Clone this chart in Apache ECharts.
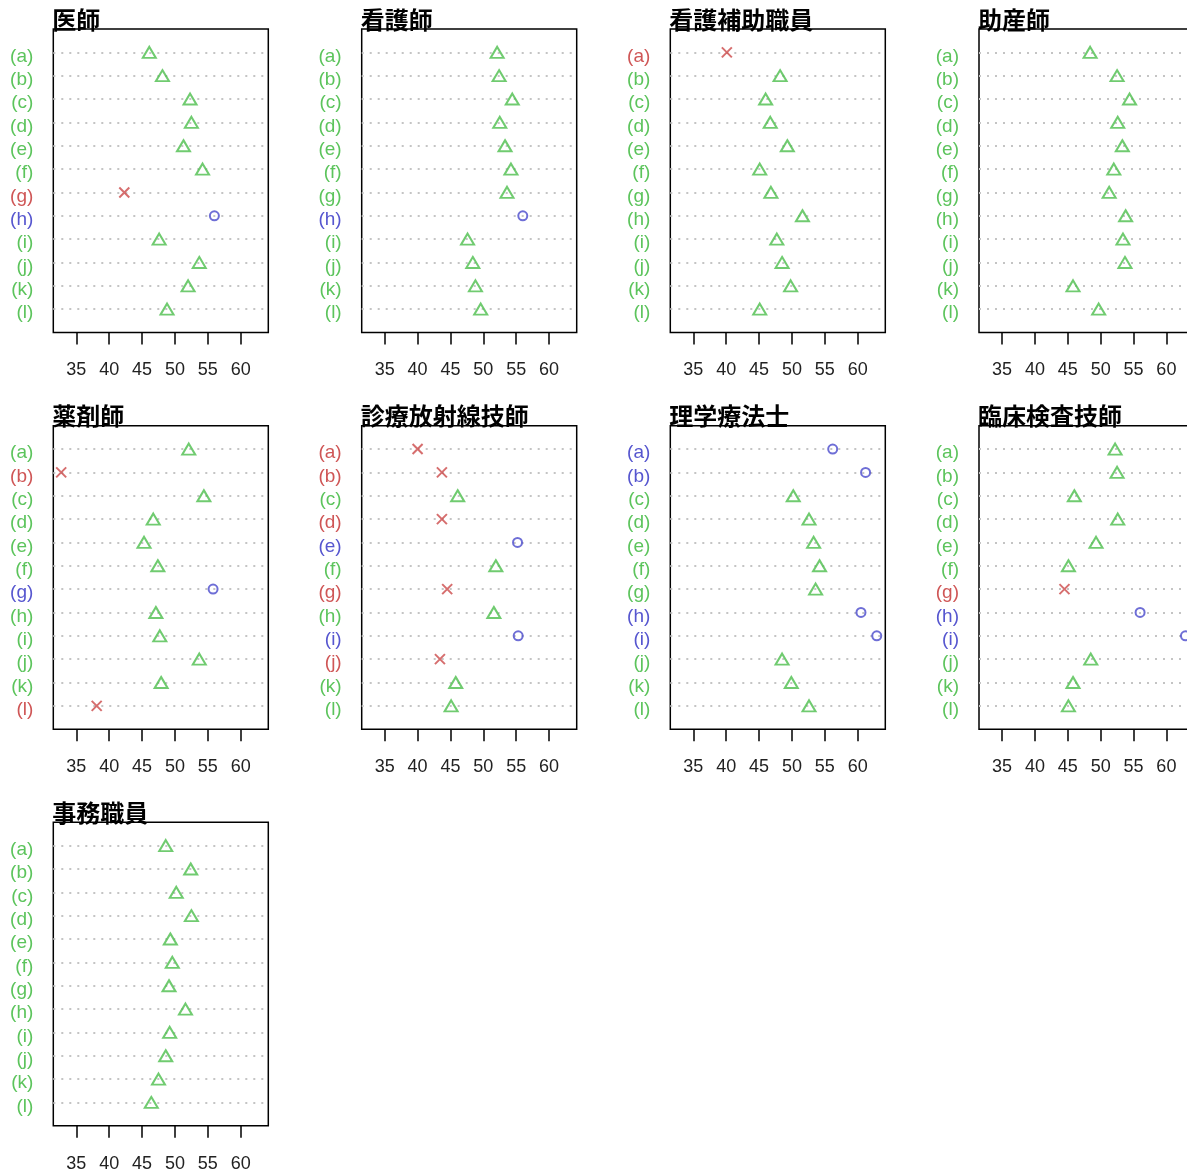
<!DOCTYPE html>
<html>
<head>
<meta charset="utf-8">
<script src="https://cdn.jsdelivr.net/npm/echarts@6/dist/echarts.min.js"></script>
<style>
html,body{margin:0;padding:0;background:#fff;}
#chart{width:1187px;height:1175px;}
</style>
</head>
<body>
<div id="chart"></div>
<script>
// ---- data ----
const categories = ['(a)','(b)','(c)','(d)','(e)','(f)','(g)','(h)','(i)','(j)','(k)','(l)'];
const panelTitles = ['医師','看護師','看護補助職員','助産師','薬剤師','診療放射線技師','理学療法士','臨床検査技師','事務職員'];
const xTicks = [35, 40, 45, 50, 55, 60];

const doctor     = [46.1, 48.1, 52.3, 52.5, 51.3, 54.2, 42.3, 56.0, 47.6, 53.7, 52.0, 48.8];
const nurse      = [52.1, 52.4, 54.4, 52.5, 53.3, 54.2, 53.6, 56.0, 47.6, 48.4, 48.8, 49.6];
const nurseAide  = [40.1, 48.2, 46.0, 46.7, 49.3, 45.1, 46.8, 51.6, 47.7, 48.5, 49.8, 45.1];
const midwife    = [48.4, 52.5, 54.4, 52.6, 53.3, 52.0, 51.3, 53.8, 53.4, 53.7, 45.8, 49.7];
const pharmacist = [52.1, 32.7, 54.4, 46.7, 45.3, 47.4, 55.8, 47.1, 47.7, 53.7, 47.9, 38.1];
const radiologic = [40.0, 43.7, 46.1, 43.7, 55.2, 51.9, 44.5, 51.6, 55.3, 43.4, 45.8, 45.1];
const physio     = [56.2, 61.2, 50.2, 52.6, 53.3, 54.2, 53.6, 60.5, 62.9, 48.5, 49.9, 52.6];
const labTech    = [52.2, 52.5, 46.0, 52.6, 49.3, 45.1, 44.5, 56.0, 62.9, 48.5, 45.8, 45.1];
const clerical   = [48.6, 52.4, 50.2, 52.5, 49.3, 49.6, 49.1, 51.6, 49.2, 48.6, 47.5, 46.4];

const panelValues = [doctor, nurse, nurseAide, midwife, pharmacist, radiologic, physio, labTech, clerical];

// ---- style / layout ----
const lowCut = 45, highCut = 55;
const RED = '#cc4a4a', GREEN = '#4cbe4c', BLUE = '#4a4acc';
const xMin = 31.5, xMax = 64.2;
const colLefts = [53.3, 361.7, 670.3, 979];
const rowTops = [29, 425.7, 822.3];
const plotW = 215, plotH = 303.5;
const n = categories.length;

function kind(v) {
  if (v < lowCut) return 'r';
  if (v >= highCut) return 'b';
  return 'g';
}
const colorOf = { r: RED, g: GREEN, b: BLUE };
const labelColorOf = { r: '#cf5656', g: '#5cc45c', b: '#5656cf' };

const grids = [], xAxes = [], yAxes = [], titles = [], series = [];

function richStyle(c) {
  return { color: c, fontSize: 19, fontFamily: 'Liberation Sans', padding: [8, 0, 0, 0] };
}

panelValues.forEach((vals, p) => {
  const col = p % 4, row = Math.floor(p / 4);
  const left = colLefts[col], top = rowTops[row];
  grids.push({
    left: left, top: top, width: plotW, height: plotH,
    show: true, borderColor: '#000', borderWidth: 1.5, backgroundColor: 'transparent',
    containLabel: false, outerBoundsMode: 'none'
  });
  titles.push({
    text: panelTitles[p], left: left - 1, top: top - 21.5, padding: 0,
    textStyle: { fontFamily: 'Noto Sans CJK JP', fontWeight: 'bold', fontSize: 24, lineHeight: 24, color: '#000' }
  });
  xAxes.push({
    gridIndex: p, type: 'value', min: xMin, max: xMax,
    axisLine: { show: false },
    axisTick: { show: true, length: 12, customValues: xTicks, lineStyle: { color: '#000', width: 1.5 } },
    axisLabel: { customValues: xTicks, fontSize: 18, fontFamily: 'Liberation Sans', color: '#222', margin: 29 },
    splitLine: { show: false }
  });
  const kinds = vals.map(kind);
  yAxes.push({
    gridIndex: p, type: 'value', min: 0, max: n + 1, interval: 1,
    axisLine: { show: false }, axisTick: { show: false },
    axisLabel: {
      margin: 20,
      formatter: function (v) {
        const idx = n - v;
        if (idx < 0 || idx >= n) return '';
        return '{' + kinds[idx] + '|' + categories[idx] + '}';
      },
      rich: {
        r: richStyle(labelColorOf.r),
        g: richStyle(labelColorOf.g),
        b: richStyle(labelColorOf.b)
      }
    },
    splitLine: {
      show: true, showMinLine: false, showMaxLine: false,
      lineStyle: { color: '#c4c4c4', width: 2, type: [2, 6] }
    }
  });
  series.push({
    type: 'scatter', xAxisIndex: p, yAxisIndex: p, silent: true, animation: false,
    data: vals.map((v, i) => {
      const k = kinds[i];
      const item = { value: [v, n - i] };
      if (k === 'g') {
        item.symbol = 'triangle'; item.symbolSize = [13, 11];
      } else if (k === 'b') {
        item.symbol = 'circle'; item.symbolSize = 9;
      } else {
        item.symbol = 'path://M0,0L10,10M0,10L10,0'; item.symbolSize = 10;
      }
      item.itemStyle = { color: 'rgba(0,0,0,0)', borderColor: colorOf[k], borderWidth: 2 };
      return item;
    })
  });
});

const chart = echarts.init(document.getElementById('chart'), null, { renderer: 'canvas' });
chart.setOption({
  animation: false,
  backgroundColor: '#fff',
  title: titles,
  grid: grids,
  xAxis: xAxes,
  yAxis: yAxes,
  series: series
});
</script>
</body>
</html>
